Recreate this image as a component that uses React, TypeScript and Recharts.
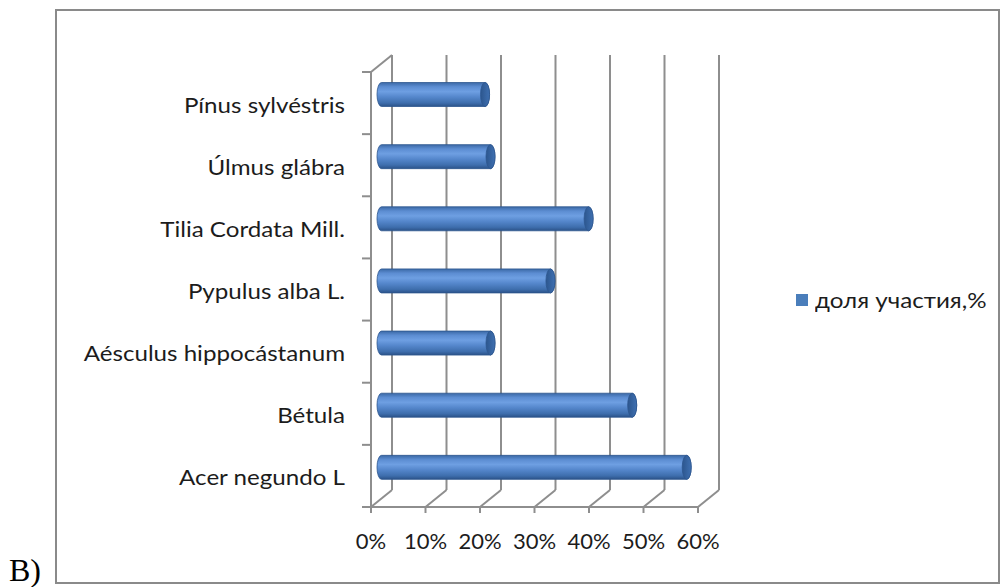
import React from 'react';
import { BarChart, Bar, XAxis, YAxis, CartesianGrid, Legend } from 'recharts';

// categories top to bottom, as in the picture
const species = [
  'Pínus sylvéstris',
  'Úlmus glábra',
  'Tilia Cordata Mill.',
  'Pypulus alba L.',
  'Aésculus hippocástanum',
  'Bétula',
  'Acer negundo L',
];
const shares = [19, 20, 38, 31, 20, 46, 56];
const percentTicks = [0, 10, 20, 30, 40, 50, 60];
const seriesName = 'доля участия,%';

const data = species.map((name, i) => ({ name, share: shares[i] }));

// look of the fake 3d box (back wall is shifted by DX/DY)
const DX = 21;
const DY = -17;
const GRID = '#8e8e8e';
const TEXT = '#1c1c1c';
const FONT = 'Lato, "Open Sans", sans-serif';
const SX = 1.15; // source picture is stretched horizontally
const W = 1002;
const H = 587;
const PLOT = { left: 371, right: 698, top: 72, bottom: 507 };
const HALF_BAND = (PLOT.bottom - PLOT.top) / species.length / 2;

const gridLine = (props: any) => {
  const { x1, y1, y2, index } = props;
  return (
    <g key={`g-${index}`}>
      <line x1={x1 + DX} y1={y1 + DY} x2={x1 + DX} y2={y2 + DY} stroke={GRID} strokeWidth={2} />
      <line x1={x1 + DX} y1={y2 + DY} x2={x1} y2={y2} stroke={GRID} strokeWidth={2} />
    </g>
  );
};

const CategoryTick = (props: any) => {
  const { x, y, payload, index } = props;
  return (
    <g>
      <line x1={x - 9} y1={y - HALF_BAND} x2={x} y2={y - HALF_BAND} stroke={GRID} strokeWidth={2} />
      {index === species.length - 1 && (
        <line x1={x - 9} y1={y + HALF_BAND} x2={x} y2={y + HALF_BAND} stroke={GRID} strokeWidth={2} />
      )}
      {index === 0 && (
        <line x1={x} y1={y - HALF_BAND} x2={x + DX} y2={y - HALF_BAND + DY} stroke={GRID} strokeWidth={2} />
      )}
      <text
        transform={`translate(${x - 26},${y}) scale(${SX},1)`}
        textAnchor="end"
        dy="0.45em"
        fontFamily={FONT}
        fontSize={21}
        fill={TEXT}
      >
        {payload.value}
      </text>
    </g>
  );
};

const PercentTick = (props: any) => {
  const { x, y, payload } = props;
  return (
    <text x={x} y={y} textAnchor="middle" dy="0.71em" fontFamily={FONT} fontSize={22} fill={TEXT}>
      {`${payload.value}%`}
    </text>
  );
};

const Cylinder = (props: any) => {
  const { x, y, width, height, index } = props;
  const r = height / 2;
  const rx = 4.5;
  const x0 = x + DX / 2;
  const cy = y + r + DY / 2;
  const x1 = x0 + width;
  const d = `M${x0},${cy - r} L${x1},${cy - r} A${rx},${r} 0 0 1 ${x1},${cy + r} L${x0},${cy + r} A${rx},${r} 0 0 1 ${x0},${cy - r} Z`;
  return (
    <g>
      <defs>
        <linearGradient id={`body-${index}`} x1="0" y1="0" x2="0" y2="1">
          <stop offset="0%" stopColor="#3b69a6" />
          <stop offset="18%" stopColor="#5c8dd2" />
          <stop offset="38%" stopColor="#6e9fe2" />
          <stop offset="60%" stopColor="#5587cc" />
          <stop offset="85%" stopColor="#3e6ead" />
          <stop offset="100%" stopColor="#2b5288" />
        </linearGradient>
        <linearGradient id={`cap-${index}`} x1="0" y1="0" x2="1" y2="0">
          <stop offset="0%" stopColor="#2c568e" />
          <stop offset="100%" stopColor="#3f70b1" />
        </linearGradient>
      </defs>
      <path d={d} fill={`url(#body-${index})`} stroke="#2d578f" strokeWidth={0.8} />
      <ellipse cx={x1} cy={cy} rx={rx} ry={r} fill={`url(#cap-${index})`} stroke="#2d578f" strokeWidth={0.8} />
    </g>
  );
};

const renderLegend = (props: any) => (
  <div style={{ display: 'flex', alignItems: 'center', fontFamily: FONT, fontSize: 21, color: TEXT }}>
    {(props.payload || []).map((p: any) => (
      <React.Fragment key={p.value}>
        <span style={{ display: 'inline-block', width: 12, height: 12, background: '#4a7ebb', marginRight: 7 }} />
        <span style={{ display: 'inline-block', whiteSpace: 'nowrap', transform: `scaleX(${SX})`, transformOrigin: 'left center' }}>
          {p.value}
        </span>
      </React.Fragment>
    ))}
  </div>
);

export default function App() {
  return (
    <div style={{ position: 'absolute', left: 0, top: 0, width: W, height: H, background: '#fff' }}>
      <div
        style={{
          position: 'absolute',
          left: 55,
          top: 9,
          width: 945,
          height: 575,
          boxSizing: 'border-box',
          border: '2px solid #8a8a8a',
        }}
      />
      <div
        style={{
          position: 'absolute',
          left: 9,
          top: 556,
          fontFamily: '"Liberation Serif", "Times New Roman", serif',
          fontSize: 32,
          lineHeight: '28px',
          color: '#000',
        }}
      >
        B)
      </div>
      <div style={{ position: 'absolute', left: 0, top: 0 }}>
        <BarChart
          width={W}
          height={H}
          data={data}
          layout="vertical"
          margin={{ top: PLOT.top, right: W - PLOT.right, bottom: H - PLOT.bottom - 1, left: PLOT.left - 1 }}
        >
          <CartesianGrid horizontal={false} vertical={gridLine} />
          <XAxis
            type="number"
            domain={[0, 60]}
            ticks={percentTicks}
            height={1}
            axisLine={{ stroke: GRID, strokeWidth: 2 }}
            tickLine={{ stroke: GRID, strokeWidth: 2 }}
            tickSize={6}
            tickMargin={20}
            tick={<PercentTick />}
          />
          <YAxis
            type="category"
            dataKey="name"
            width={1}
            axisLine={{ stroke: GRID, strokeWidth: 2 }}
            tickLine={false}
            tickSize={0}
            tickMargin={0}
            tick={<CategoryTick />}
            interval={0}
          />
          <Legend
            layout="vertical"
            align="center"
            verticalAlign="middle"
            wrapperStyle={{ left: 796, top: 287, width: 'auto' }}
            content={renderLegend}
          />
          <Bar dataKey="share" name={seriesName} barSize={24} shape={<Cylinder />} isAnimationActive={false} />
        </BarChart>
      </div>
    </div>
  );
}
